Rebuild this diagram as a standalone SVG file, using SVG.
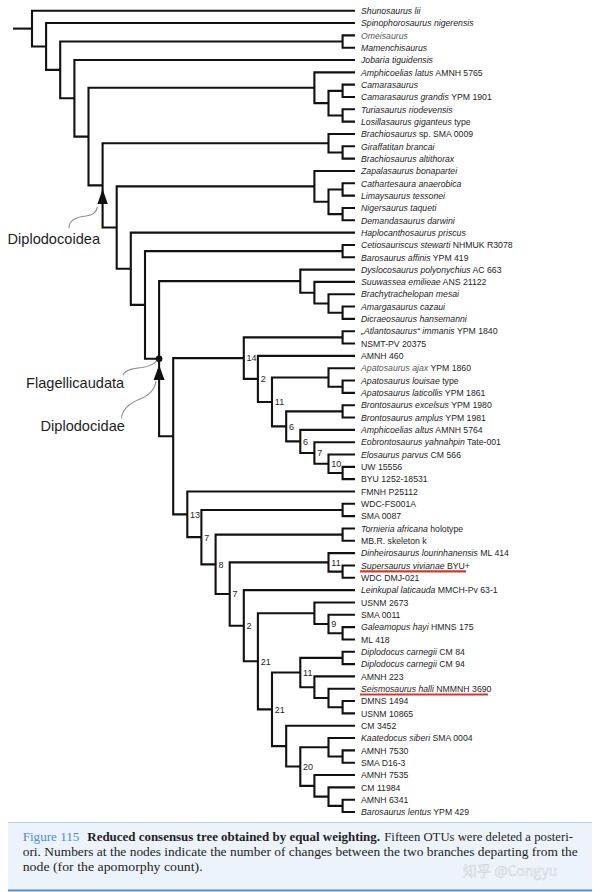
<svg xmlns="http://www.w3.org/2000/svg" width="600" height="892" viewBox="0 0 600 892">
<style>
.br{fill:none;stroke:#111;stroke-width:2.1;stroke-linejoin:miter;stroke-linecap:butt}
.lf{font-family:"Liberation Sans",Arial,sans-serif;font-size:8.7px;fill:#1e1e1e}
.i{font-style:italic}
.g{fill:#5a5a5a}
.nl{font-family:"Liberation Sans",Arial,sans-serif;font-size:9px;fill:#1e1e1e}
.clade{font-family:"Liberation Sans",Arial,sans-serif;font-size:14.6px;fill:#1e1e1e}
.lead{fill:none;stroke:#8a8a8a;stroke-width:1.1}
.red{stroke:#d8372c;stroke-width:2.2}
.cap{font-family:"Liberation Serif","Times New Roman",serif;font-size:13.5px;fill:#231f20}
.fig{fill:#4b8fd1}
.wm{font-family:"Noto Sans CJK SC","Noto Sans",sans-serif;font-size:14px;fill:#ffffff;fill-opacity:0.7;stroke:#9aa3ad;stroke-opacity:0.45;stroke-width:0.6}
</style>
<rect width="600" height="892" fill="#fff"/>
<g id="connectors">
<path class="br" d="M13 28.6H32"/>
<path class="br" d="M355 10.7H32V46.47H46.1"/>
<path class="br" d="M355 23.03H46.1V69.91H60.2"/>
<path class="br" d="M342.6 41.52H60.2V98.3H74.4"/>
<path class="br" d="M355 35.36H342.6V47.68H355"/>
<path class="br" d="M355 60.01H74.4V136.58H88.5"/>
<path class="br" d="M314.4 87.75H88.5V185.4H102.6"/>
<path class="br" d="M355 72.34H314.4V103.16H328.5"/>
<path class="br" d="M342.6 90.84H328.5V115.49H342.6"/>
<path class="br" d="M355 84.67H342.6V97H355"/>
<path class="br" d="M355 109.32H342.6V121.65H355"/>
<path class="br" d="M328.5 143.23H102.6V227.57H116.7"/>
<path class="br" d="M355 133.98H328.5V152.48H342.6"/>
<path class="br" d="M355 146.31H342.6V158.64H355"/>
<path class="br" d="M314.4 186.38H116.7V268.75H130.8"/>
<path class="br" d="M355 170.96H314.4V201.79H328.5"/>
<path class="br" d="M342.6 189.46H328.5V214.12H342.6"/>
<path class="br" d="M355 183.29H342.6V195.62H355"/>
<path class="br" d="M355 207.95H342.6V220.28H355"/>
<path class="br" d="M355 232.6H130.8V304.9H145"/>
<path class="br" d="M342.6 251.1H145V358.7H159.1"/>
<path class="br" d="M355 244.93H342.6V257.26H355"/>
<path class="br" d="M300.3 281.15H159.1V436.24H173.2"/>
<path class="br" d="M355 269.59H300.3V292.71H314.4"/>
<path class="br" d="M355 281.92H314.4V303.49H328.5"/>
<path class="br" d="M355 294.24H328.5V312.74H342.6"/>
<path class="br" d="M355 306.57H342.6V318.9H355"/>
<path class="br" d="M243.8 358.15H173.2V514.33H187.3"/>
<path class="br" d="M342.6 337.4H243.8V378.9H257.9"/>
<path class="br" d="M355 331.23H342.6V343.56H355"/>
<path class="br" d="M355 355.88H257.9V401.93H272"/>
<path class="br" d="M328.5 377.46H272V426.39H286.2"/>
<path class="br" d="M355 368.21H328.5V386.71H342.6"/>
<path class="br" d="M355 380.54H342.6V392.87H355"/>
<path class="br" d="M342.6 411.36H286.2V441.41H300.3"/>
<path class="br" d="M355 405.2H342.6V417.52H355"/>
<path class="br" d="M355 429.85H300.3V452.97H314.4"/>
<path class="br" d="M355 442.18H314.4V463.76H328.5"/>
<path class="br" d="M355 454.51H328.5V473H342.6"/>
<path class="br" d="M355 466.84H342.6V479.16H355"/>
<path class="br" d="M355 491.49H187.3V537.17H201.4"/>
<path class="br" d="M342.6 509.99H201.4V564.35H215.6"/>
<path class="br" d="M355 503.82H342.6V516.15H355"/>
<path class="br" d="M342.6 534.64H215.6V594.05H229.7"/>
<path class="br" d="M355 528.48H342.6V540.8H355"/>
<path class="br" d="M328.5 562.38H229.7V625.71H243.8"/>
<path class="br" d="M355 553.13H328.5V571.63H342.6"/>
<path class="br" d="M355 565.46H342.6V577.79H355"/>
<path class="br" d="M355 590.12H243.8V661.3H257.9"/>
<path class="br" d="M314.4 613.23H257.9V709.36H272"/>
<path class="br" d="M355 602.44H314.4V624.02H328.5"/>
<path class="br" d="M355 614.77H328.5V633.27H342.6"/>
<path class="br" d="M355 627.1H342.6V639.43H355"/>
<path class="br" d="M300.3 672.56H272V746.15H286.2"/>
<path class="br" d="M342.6 657.92H300.3V687.2H314.4"/>
<path class="br" d="M355 651.76H342.6V664.08H355"/>
<path class="br" d="M355 676.41H314.4V697.99H328.5"/>
<path class="br" d="M355 688.74H328.5V707.24H342.6"/>
<path class="br" d="M355 701.07H342.6V713.4H355"/>
<path class="br" d="M355 725.72H286.2V766.57H300.3"/>
<path class="br" d="M328.5 747.3H300.3V785.83H314.4"/>
<path class="br" d="M355 738.05H328.5V756.55H342.6"/>
<path class="br" d="M355 750.38H342.6V762.71H355"/>
<path class="br" d="M355 775.04H314.4V796.61H328.5"/>
<path class="br" d="M355 787.36H328.5V805.86H342.6"/>
<path class="br" d="M355 799.69H342.6V812.02H355"/>
</g>
<g id="clade-markers">
<polygon points="102.6,189 97.4,204 107.8,204" fill="#111"/>
<circle cx="159.1" cy="358.7" r="3.3" fill="#111"/>
<polygon points="159.1,365 153.6,380 164.6,380" fill="#111"/>
<path class="lead" d="M69 228C69 220 76 217 86 216C93 215 96 213 97.5 207"/>
<path class="lead" d="M123 375C125 370 132 368.5 142 367.5C150 366.5 154 364 156.5 361"/>
<path class="lead" d="M121.5 418.5C122 409 130 403 140 399C150 395 155 390 156 381"/>
</g>
<g id="clade-labels">
<text class="clade" x="7.5" y="243.5">Diplodocoidea</text>
<text class="clade" x="26" y="387.5">Flagellicaudata</text>
<text class="clade" x="40.5" y="431">Diplodocidae</text>
</g>
<g id="node-labels">
<text class="nl" x="246.6" y="361.4">14</text>
<text class="nl" x="260.7" y="382.2">2</text>
<text class="nl" x="274.8" y="405.2">11</text>
<text class="nl" x="289" y="429.7">6</text>
<text class="nl" x="303.1" y="444.7">6</text>
<text class="nl" x="317.2" y="456.3">7</text>
<text class="nl" x="331.3" y="467.1">10</text>
<text class="nl" x="190.1" y="517.6">13</text>
<text class="nl" x="204.2" y="540.5">7</text>
<text class="nl" x="218.4" y="567.7">8</text>
<text class="nl" x="232.5" y="597.4">7</text>
<text class="nl" x="331.3" y="565.7">11</text>
<text class="nl" x="246.6" y="629">2</text>
<text class="nl" x="331.3" y="627.3">9</text>
<text class="nl" x="260.7" y="664.6">21</text>
<text class="nl" x="303.1" y="675.9">11</text>
<text class="nl" x="274.8" y="712.7">21</text>
<text class="nl" x="303.1" y="769.9">20</text>
</g>
<g id="leaves">
<g id="n1"><text class="lf i" x="361" y="13.9">Shunosaurus lii</text></g>
<g id="n2"><text class="lf i" x="361" y="26.2">Spinophorosaurus nigerensis</text></g>
<g id="n3"><text class="lf i g" x="361" y="38.6">Omeisaurus</text></g>
<g id="n4"><text class="lf i" x="361" y="50.9">Mamenchisaurus</text></g>
<g id="n5"><text class="lf i" x="361" y="63.2">Jobaria tiguidensis</text></g>
<g id="n6"><text class="lf" x="361" y="75.5"><tspan class="i">Amphicoelias latus</tspan> AMNH 5765</text></g>
<g id="n7"><text class="lf i" x="361" y="87.9">Camarasaurus</text></g>
<g id="n8"><text class="lf" x="361" y="100.2"><tspan class="i">Camarasaurus grandis</tspan> YPM 1901</text></g>
<g id="n9"><text class="lf i" x="361" y="112.5">Turiasaurus riodevensis</text></g>
<g id="n10"><text class="lf" x="361" y="124.9"><tspan class="i">Losillasaurus giganteus</tspan> type</text></g>
<g id="n11"><text class="lf" x="361" y="137.2"><tspan class="i">Brachiosaurus</tspan> sp. SMA 0009</text></g>
<g id="n12"><text class="lf i" x="361" y="149.5">Giraffatitan brancai</text></g>
<g id="n13"><text class="lf i" x="361" y="161.8">Brachiosaurus altithorax</text></g>
<g id="n14"><text class="lf i" x="361" y="174.2">Zapalasaurus bonapartei</text></g>
<g id="n15"><text class="lf i" x="361" y="186.5">Cathartesaura anaerobica</text></g>
<g id="n16"><text class="lf i" x="361" y="198.8">Limaysaurus tessonei</text></g>
<g id="n17"><text class="lf i" x="361" y="211.2">Nigersaurus taqueti</text></g>
<g id="n18"><text class="lf i" x="361" y="223.5">Demandasaurus darwini</text></g>
<g id="n19"><text class="lf i" x="361" y="235.8">Haplocanthosaurus priscus</text></g>
<g id="n20"><text class="lf" x="361" y="248.1"><tspan class="i">Cetiosauriscus stewarti</tspan> NHMUK R3078</text></g>
<g id="n21"><text class="lf" x="361" y="260.5"><tspan class="i">Barosaurus affinis</tspan> YPM 419</text></g>
<g id="n22"><text class="lf" x="361" y="272.8"><tspan class="i">Dyslocosaurus polyonychius</tspan> AC 663</text></g>
<g id="n23"><text class="lf" x="361" y="285.1"><tspan class="i">Suuwassea emilieae</tspan> ANS 21122</text></g>
<g id="n24"><text class="lf i" x="361" y="297.4">Brachytrachelopan mesai</text></g>
<g id="n25"><text class="lf i" x="361" y="309.8">Amargasaurus cazaui</text></g>
<g id="n26"><text class="lf i" x="361" y="322.1">Dicraeosaurus hansemanni</text></g>
<g id="n27"><text class="lf" x="361" y="334.4"><tspan class="i">„Atlantosaurus“ immanis</tspan> YPM 1840</text></g>
<g id="n28"><text class="lf" x="361" y="346.8">NSMT-PV 20375</text></g>
<g id="n29"><text class="lf" x="361" y="359.1">AMNH 460</text></g>
<g id="n30"><text class="lf" x="361" y="371.4"><tspan class="i g">Apatosaurus ajax</tspan> YPM 1860</text></g>
<g id="n31"><text class="lf" x="361" y="383.7"><tspan class="i">Apatosaurus louisae</tspan> type</text></g>
<g id="n32"><text class="lf" x="361" y="396.1"><tspan class="i">Apatosaurus laticollis</tspan> YPM 1861</text></g>
<g id="n33"><text class="lf" x="361" y="408.4"><tspan class="i">Brontosaurus excelsus</tspan> YPM 1980</text></g>
<g id="n34"><text class="lf" x="361" y="420.7"><tspan class="i">Brontosaurus amplus</tspan> YPM 1981</text></g>
<g id="n35"><text class="lf" x="361" y="433.1"><tspan class="i">Amphicoelias altus</tspan> AMNH 5764</text></g>
<g id="n36"><text class="lf" x="361" y="445.4"><tspan class="i">Eobrontosaurus yahnahpin</tspan> Tate-001</text></g>
<g id="n37"><text class="lf" x="361" y="457.7"><tspan class="i">Elosaurus parvus</tspan> CM 566</text></g>
<g id="n38"><text class="lf" x="361" y="470">UW 15556</text></g>
<g id="n39"><text class="lf" x="361" y="482.4">BYU 1252-18531</text></g>
<g id="n40"><text class="lf" x="361" y="494.7">FMNH P25112</text></g>
<g id="n41"><text class="lf" x="361" y="507">WDC-FS001A</text></g>
<g id="n42"><text class="lf" x="361" y="519.3">SMA 0087</text></g>
<g id="n43"><text class="lf" x="361" y="531.7"><tspan class="i">Tornieria africana</tspan> holotype</text></g>
<g id="n44"><text class="lf" x="361" y="544">MB.R. skeleton k</text></g>
<g id="n45"><text class="lf" x="361" y="556.3"><tspan class="i">Dinheirosaurus lourinhanensis</tspan> ML 414</text></g>
<g id="n46"><text class="lf" x="361" y="568.7"><tspan class="i">Supersaurus vivianae</tspan> BYU+</text><line class="red" x1="360" y1="571.3" x2="466" y2="571.3"/></g>
<g id="n47"><text class="lf" x="361" y="581">WDC DMJ-021</text></g>
<g id="n48"><text class="lf" x="361" y="593.3"><tspan class="i">Leinkupal laticauda</tspan> MMCH-Pv 63-1</text></g>
<g id="n49"><text class="lf" x="361" y="605.6">USNM 2673</text></g>
<g id="n50"><text class="lf" x="361" y="618">SMA 0011</text></g>
<g id="n51"><text class="lf" x="361" y="630.3"><tspan class="i">Galeamopus hayi</tspan> HMNS 175</text></g>
<g id="n52"><text class="lf" x="361" y="642.6">ML 418</text></g>
<g id="n53"><text class="lf" x="361" y="655"><tspan class="i">Diplodocus carnegii</tspan> CM 84</text></g>
<g id="n54"><text class="lf" x="361" y="667.3"><tspan class="i">Diplodocus carnegii</tspan> CM 94</text></g>
<g id="n55"><text class="lf" x="361" y="679.6">AMNH 223</text></g>
<g id="n56"><text class="lf" x="361" y="691.9"><tspan class="i">Seismosaurus halli</tspan> NMMNH 3690</text><line class="red" x1="360" y1="694.5" x2="488" y2="694.5"/></g>
<g id="n57"><text class="lf" x="361" y="704.3">DMNS 1494</text></g>
<g id="n58"><text class="lf" x="361" y="716.6">USNM 10865</text></g>
<g id="n59"><text class="lf" x="361" y="728.9">CM 3452</text></g>
<g id="n60"><text class="lf" x="361" y="741.3"><tspan class="i">Kaatedocus siberi</tspan> SMA 0004</text></g>
<g id="n61"><text class="lf" x="361" y="753.6">AMNH 7530</text></g>
<g id="n62"><text class="lf" x="361" y="765.9">SMA D16-3</text></g>
<g id="n63"><text class="lf" x="361" y="778.2">AMNH 7535</text></g>
<g id="n64"><text class="lf" x="361" y="790.6">CM 11984</text></g>
<g id="n65"><text class="lf" x="361" y="802.9">AMNH 6341</text></g>
<g id="n66"><text class="lf" x="361" y="815.2"><tspan class="i">Barosaurus lentus</tspan> YPM 429</text></g>
</g>
<g id="caption">
<rect x="8" y="822" width="584" height="68" fill="#edf3fb"/>
<line x1="8" y1="822.5" x2="592" y2="822.5" stroke="#b7cde8" stroke-width="1"/>
<line x1="8" y1="890.5" x2="592" y2="890.5" stroke="#5b8fcb" stroke-width="2"/>
<text class="cap fig" x="22.7" y="841.3" textLength="56.6" lengthAdjust="spacingAndGlyphs">Figure 115</text>
<text class="cap" x="87.3" y="841.3" font-weight="bold" textLength="292.7" lengthAdjust="spacingAndGlyphs">Reduced consensus tree obtained by equal weighting.</text>
<text class="cap" x="384.3" y="841.3" textLength="188.7" lengthAdjust="spacingAndGlyphs">Fifteen OTUs were deleted a posteri-</text>
<text class="cap" x="22.7" y="856.3" textLength="555" lengthAdjust="spacingAndGlyphs">ori. Numbers at the nodes indicate the number of changes between the two branches departing from the</text>
<text class="cap" x="22.7" y="871.3" textLength="180" lengthAdjust="spacingAndGlyphs">node (for the apomorphy count).</text>
<text class="wm" x="463" y="876">知乎 @Congyu</text>
</g>
</svg>
